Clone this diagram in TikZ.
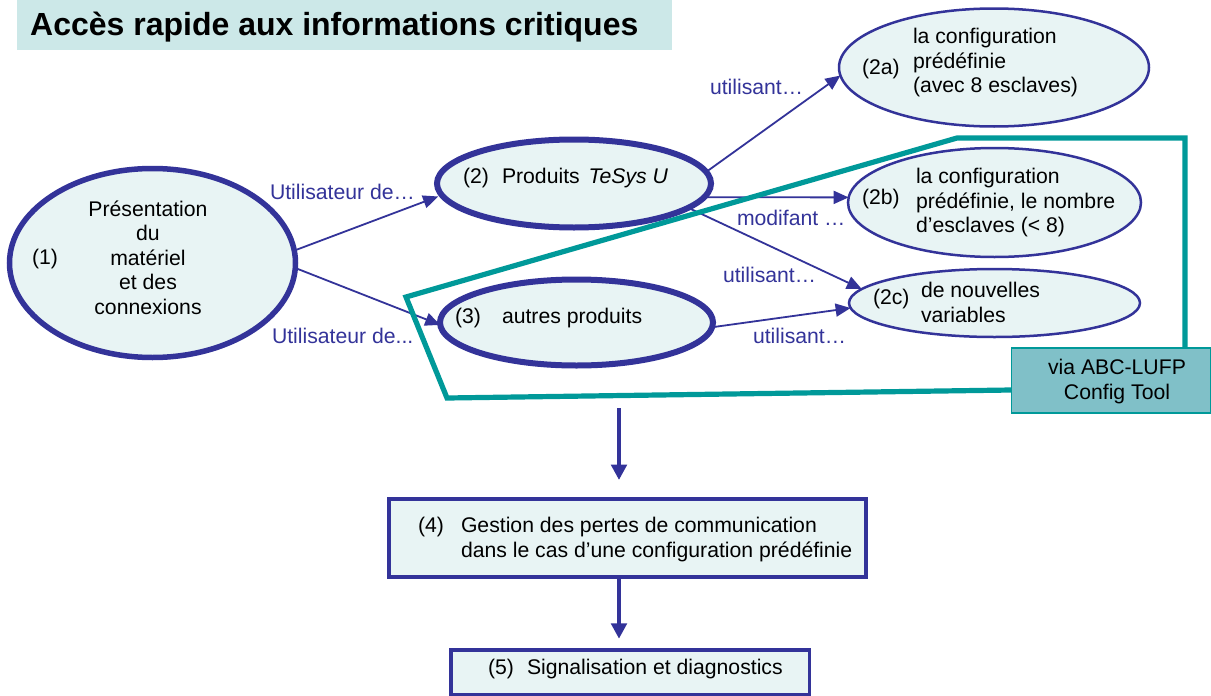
\documentclass[tikz,border=0pt]{standalone}
\usepackage{fontspec}
\setmainfont{Liberation Sans}
\usetikzlibrary{shapes.geometric,arrows.meta}
\definecolor{bl}{HTML}{333399}
\definecolor{pale}{HTML}{E8F4F4}
\definecolor{tl}{HTML}{009999}
\definecolor{viafill}{HTML}{80C0C8}
\definecolor{ttl}{HTML}{CCE8E8}
\tikzset{
 x=1pt,y=-1pt,
 shp/.style={draw=bl,fill=pale,outer sep=0pt,inner sep=0pt},
 ell/.style={shp,ellipse},
 rect/.style={shp,rectangle},
 txt/.style={inner sep=0pt,outer sep=0pt,text=black,font=\fontsize{21.2}{24.5}\selectfont,anchor=west,align=left,yshift=-1.5pt},
 ctr/.style={txt,anchor=center,align=center},
 lab/.style={inner sep=0pt,outer sep=0pt,text=bl,font=\fontsize{21.2}{24}\selectfont,anchor=west},
 thin arrow/.style={draw=bl,line width=1.8pt,-{Triangle[length=15pt,width=13pt]}},
 thick arrow/.style={draw=bl,line width=4pt,-{Triangle[length=15.5pt,width=15.5pt]}},
}
\begin{document}
\begin{tikzpicture}
\useasboundingbox (0,0) rectangle (1211,696);
\fill[white] (0,0) rectangle (1211,696);
\node[fill=ttl,minimum width=655pt,minimum height=50pt,inner sep=0pt,outer sep=0pt,anchor=north west] (title) at (17,0) {};
\node[inner sep=0pt,anchor=west,font=\fontsize{32}{36}\bfseries\selectfont] (titletext) at (30,27.5) {Accès rapide aux informations critiques};

\node[ell,line width=5.5pt,minimum width=286pt,minimum height=189pt] (e1) at (152.5,263) {};
\node[ell,line width=6pt,minimum width=274pt,minimum height=88pt] (e2) at (574,183.5) {};
\node[ell,line width=6pt,minimum width=273pt,minimum height=86pt] (e3) at (576.5,322.5) {};
\node[ell,line width=2.5pt,minimum width=310pt,minimum height=118pt] (a2) at (994,67.5) {};
\node[ell,line width=2.5pt,minimum width=293pt,minimum height=109pt] (b2) at (994.5,202.5) {};
\node[ell,line width=2.5pt,minimum width=291pt,minimum height=68pt] (c2) at (994.5,303) {};
\node[rect,line width=4pt,minimum width=477pt,minimum height=78pt] (b4) at (627.5,538) {};
\node[rect,line width=3.5pt,minimum width=358.5pt,minimum height=44.5pt] (b5) at (630,672) {};

\coordinate (axis) at (619,0);
\coordinate (free) at (619,408);
\draw[thin arrow,shorten >=4pt] (e1.5.5) -- (e2.185.7);
\draw[thin arrow] (e1.-2.4) -- (e3.181.5);
\draw[thin arrow] (e2.5.9) -- (a2.183.9);
\draw[thin arrow] (e2.-6.4) -- (b2.178.2);
\draw[thin arrow] (e2.-12.2) -- (c2.174.2);
\draw[thin arrow] (e3.-2) -- (c2.182.4);
\draw[thick arrow,shorten >=19pt] (free) -- (b4.north -| axis);
\draw[thick arrow,shorten >=11pt] (b4.south -| axis) -- (b5.north -| axis);

\node[draw=tl,fill=viafill,line width=1.5pt,minimum width=199pt,minimum height=65pt,inner sep=0pt,outer sep=0pt] (via) at (1111,380.5) {};
\coordinate (p0) at (0,390);
\coordinate (p1) at (447,398);
\coordinate (p2) at (406,297);
\coordinate (p3) at (957,138);
\coordinate (p4) at (1185,138);
\draw[tl,line width=5.2pt,miter limit=10] (via.west |- p0) -- (p1) -- (p2) -- (p3) -- (p4) -- (p4 |- via.north);

\node[ctr] (t1) at (148,256) {Présentation\\du\\matériel\\et des\\connexions};
\node[txt] (n1) at (32,258) {(1)};
\node[txt] (n2) at (463,177) {(2)};
\node[txt] (t2) at (502,177) {Produits\hspace{3pt} \textit{TeSys U}};
\node[txt] (n3) at (455,317) {(3)};
\node[txt] (t3) at (502,317) {autres produits};
\node[txt] (na) at (862,68) {(2a)};
\node[txt] (ta) at (913,61.5) {la configuration\\prédéfinie\\(avec 8 esclaves)};
\node[txt] (nb) at (862,198) {(2b)};
\node[txt] (tb) at (916,201.5) {la configuration\\prédéfinie, le nombre\\d’esclaves (< 8)};
\node[txt] (nc) at (873,298) {(2c)};
\node[txt] (tc) at (921,301) {de nouvelles\\variables};
\node[ctr] (tv) at (1117,380) {via ABC-LUFP\\Config Tool};
\node[txt] (n4) at (418,526) {(4)};
\node[txt] (t4) at (461,538) {Gestion des pertes de communication\\dans le cas d’une configuration prédéfinie};
\node[txt] (n5) at (488,668) {(5)};
\node[txt] (t5) at (527,668) {Signalisation et diagnostics};

\node[lab] (l1) at (270,192) {Utilisateur de…};
\node[lab] (l2) at (272,336) {Utilisateur de...};
\node[lab] (l3) at (710,87) {utilisant…};
\node[lab] (l4) at (737,218) {modifant …};
\node[lab] (l5) at (723,275) {utilisant…};
\node[lab] (l6) at (753,336) {utilisant…};
\end{tikzpicture}
\end{document}
